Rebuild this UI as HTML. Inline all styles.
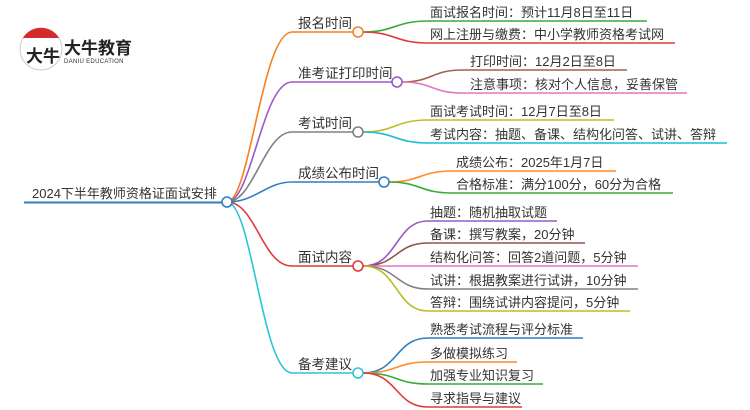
<!DOCTYPE html>
<html><head><meta charset="utf-8"><style>
html,body{margin:0;padding:0;background:#fff;}
svg{display:block;font-family:"Liberation Sans","Noto Sans CJK SC",sans-serif;}
text{fill:#333;font-size:13px;}
</style></head><body>
<svg width="750" height="410" viewBox="0 0 750 410" xmlns="http://www.w3.org/2000/svg">
<g fill="none" stroke-width="1.6">
<line x1="24" y1="202.5" x2="222" y2="202.5" stroke="#2f7fc1" stroke-width="2"/>
<path d="M227 202 C250 202,262 32,292 32 L353 32" stroke="#f5821f"/>
<path d="M227 202 C252 202,262 82,292 82 L392 82" stroke="#9b59c6"/>
<path d="M227 202 C254 202,264 132,292 132 L353 132" stroke="#808080"/>
<path d="M227 202 C256 202,266 182,292 182 L379 182" stroke="#2f7fc1"/>
<path d="M227 202 C256 202,262 266,292 266 L353 266" stroke="#e03a3a"/>
<path d="M227 202 C252 202,262 373,292 373 L353 373" stroke="#2bc4d8"/>
<path d="M363 32 C395 32,395 21,428 21 L647 21" stroke="#3aaa3a"/>
<path d="M363 32 C395 32,395 43,428 43 L675 43" stroke="#e03a3a"/>
<path d="M402 82 C432 82,432 70,462 70 L627 70" stroke="#a0624a"/>
<path d="M402 82 C432 82,432 93,462 93 L687 93" stroke="#e377c2"/>
<path d="M363 132 C395 132,395 120,428 120 L614 120" stroke="#bcbd22"/>
<path d="M363 132 C395 132,395 143,428 143 L727 143" stroke="#17becf"/>
<path d="M389 182 C420 182,420 171,452 171 L616 171" stroke="#ff8c26"/>
<path d="M389 182 C420 182,420 193,452 193 L673 193" stroke="#3aaa3a"/>
<path d="M363 266 C398 266,395 221,428 221 L557 221" stroke="#9b59c6"/>
<path d="M363 266 C398 266,395 243,428 243 L585 243" stroke="#8c564b"/>
<path d="M363 266 L638 266" stroke="#e377c2"/>
<path d="M363 266 C398 266,395 289,428 289 L638 289" stroke="#808080"/>
<path d="M363 266 C398 266,395 311,428 311 L630 311" stroke="#bcbd22"/>
<path d="M363 373 C398 373,395 338,428 338 L583 338" stroke="#2f7fc1"/>
<path d="M363 373 C398 373,395 362,428 362 L517 362" stroke="#ff8c26"/>
<path d="M363 373 C398 373,395 384,428 384 L543 384" stroke="#3aaa3a"/>
<path d="M363 373 C398 373,395 407,428 407 L522 407" stroke="#e03a3a"/>
</g>
<g fill="#fff" stroke-width="1.6">
<circle cx="227" cy="202" r="5" stroke="#2f7fc1"/>
<circle cx="358" cy="32" r="5" stroke="#f5821f"/>
<circle cx="397" cy="82" r="5" stroke="#9b59c6"/>
<circle cx="358" cy="132" r="5" stroke="#808080"/>
<circle cx="384" cy="182" r="5" stroke="#2f7fc1"/>
<circle cx="358" cy="266" r="5" stroke="#e03a3a"/>
<circle cx="358" cy="373" r="5" stroke="#2bc4d8"/>
</g>
<circle cx="41" cy="49" r="21" fill="#fff" stroke="#ccc" stroke-width="1"/>
<path d="M23 38 A21 21 0 0 1 59 38 Z" fill="#d42a2a"/>
<text x="26" y="62" style="font-size:17px;fill:#222;font-weight:bold">大牛</text>
<text x="64" y="54" style="font-size:17px;fill:#222;font-weight:bold">大牛教育</text>
<text x="64" y="63" style="font-size:6px;fill:#333;letter-spacing:0.3px">DANIU EDUCATION</text>
<text x="32" y="198" style="font-size:13px">2024下半年教师资格证面试安排</text>
<text x="298" y="28" style="font-size:13.5px">报名时间</text>
<text x="298" y="78" style="font-size:13.5px">准考证打印时间</text>
<text x="298" y="128" style="font-size:13.5px">考试时间</text>
<text x="298" y="178" style="font-size:13.5px">成绩公布时间</text>
<text x="298" y="262" style="font-size:13.5px">面试内容</text>
<text x="298" y="369" style="font-size:13.5px">备考建议</text>
<text x="430" y="17">面试报名时间：预计11月8日至11日</text>
<text x="430" y="39">网上注册与缴费：中小学教师资格考试网</text>
<text x="470" y="66">打印时间：12月2日至8日</text>
<text x="470" y="89">注意事项：核对个人信息，妥善保管</text>
<text x="430" y="116">面试考试时间：12月7日至8日</text>
<text x="430" y="139">考试内容：抽题、备课、结构化问答、试讲、答辩</text>
<text x="456" y="167">成绩公布：2025年1月7日</text>
<text x="456" y="189">合格标准：满分100分，60分为合格</text>
<text x="430" y="217">抽题：随机抽取试题</text>
<text x="430" y="239">备课：撰写教案，20分钟</text>
<text x="430" y="262">结构化问答：回答2道问题，5分钟</text>
<text x="430" y="285">试讲：根据教案进行试讲，10分钟</text>
<text x="430" y="307">答辩：围绕试讲内容提问，5分钟</text>
<text x="430" y="334">熟悉考试流程与评分标准</text>
<text x="430" y="358">多做模拟练习</text>
<text x="430" y="380">加强专业知识复习</text>
<text x="430" y="403">寻求指导与建议</text>
</svg>
</body></html>
